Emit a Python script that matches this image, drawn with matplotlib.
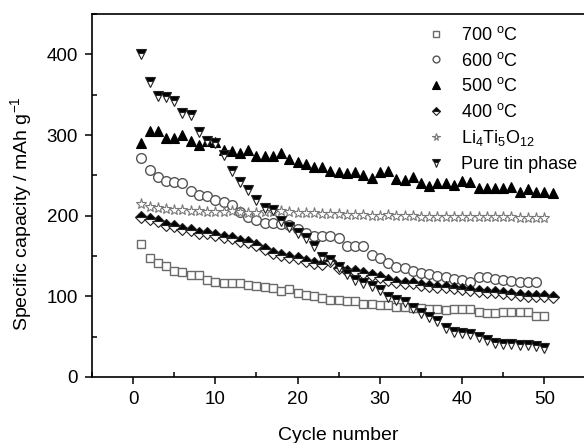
import numpy as np
import matplotlib.pyplot as plt
from matplotlib.ticker import MultipleLocator

plt.rcParams['font.family'] = ['Liberation Sans', 'DejaVu Sans']
plt.rcParams['mathtext.fontset'] = 'custom'
plt.rcParams['mathtext.rm'] = 'Liberation Sans'
plt.rcParams['mathtext.it'] = 'Liberation Sans'

# === data (capacity in mAh/g vs cycle number) ===
cap_700 = [165, 148, 142, 138, 132, 130, 127, 127, 120, 118,
           116, 116, 116, 114, 113, 111, 110, 107, 109, 104,
           102, 100, 98, 96, 95, 94, 94, 91, 91, 89,
           89, 87, 87, 85, 85, 84, 84, 83, 84, 84,
           84, 81, 79, 79, 80, 80, 80, 80, 76, 76]

cap_600 = [272, 257, 248, 243, 242, 240, 231, 226, 225, 220,
           217, 213, 205, 199, 195, 191, 191, 190, 189, 183,
           179, 175, 175, 175, 172, 163, 162, 162, 151, 147,
           141, 137, 135, 132, 129, 128, 125, 124, 121, 120,
           118, 124, 124, 121, 120, 119, 118, 118, 118]

cap_500 = [290, 305, 305, 297, 297, 300, 293, 288, 293, 291,
           282, 280, 278, 282, 274, 274, 274, 278, 270, 267,
           264, 261, 261, 256, 254, 253, 254, 251, 247, 254,
           255, 245, 244, 248, 241, 237, 241, 241, 238, 243,
           242, 235, 235, 235, 235, 236, 230, 233, 230, 229, 228]

cap_400 = [199, 196, 193, 189, 187, 183, 182, 179, 178, 176,
           174, 172, 169, 167, 164, 159, 154, 151, 149, 147,
           144, 142, 140, 144, 135, 132, 131, 129, 127, 124,
           120, 118, 117, 116, 114, 113, 112, 111, 110, 109,
           108, 107, 106, 105, 104, 103, 102, 101, 100, 100, 99]

cap_lto = [214, 211, 209, 208, 207, 207, 206, 206, 205, 205,
           205, 206, 205, 204, 204, 205, 205, 206, 205, 204,
           203, 203, 202, 202, 202, 201, 201, 201, 200, 200,
           201, 200, 200, 200, 199, 199, 199, 199, 199, 198,
           198, 198, 198, 198, 198, 198, 197, 197, 197, 197]

cap_tin = [401, 366, 349, 347, 342, 327, 325, 304, 293, 290,
           275, 256, 242, 232, 220, 209, 207, 193, 186, 179,
           173, 163, 149, 145, 137, 128, 120, 116, 113, 108,
           99, 95, 93, 85, 79, 75, 70, 61, 56, 55,
           53, 50, 46, 42, 41, 41, 40, 40, 38, 36]

labels = ['700 $^{\\mathrm{o}}$C', '600 $^{\\mathrm{o}}$C', '500 $^{\\mathrm{o}}$C',
          '400 $^{\\mathrm{o}}$C', 'Li$_4$Ti$_5$O$_{12}$', 'Pure tin phase']

fig = plt.figure(figsize=(5.84, 4.43), dpi=100)
ax = fig.add_axes([0.1575, 0.149, 0.845, 0.819])

def cyc(vals):
    return np.arange(1, len(vals) + 1)

ax.plot(cyc(cap_700), cap_700, ls='none', marker='s', ms=6.2, mfc='white',
        mec='#6a6a6a', mew=1.0, label=labels[0])
ax.plot(cyc(cap_600), cap_600, ls='none', marker='o', ms=7, mfc='white',
        mec='#555555', mew=1.0, label=labels[1])
ax.plot(cyc(cap_500), cap_500, ls='none', marker='^', ms=7.5, mfc='black',
        mec='black', mew=0.8, label=labels[2])
ax.plot(cyc(cap_400), cap_400, ls='none', marker='D', ms=6, mfc='black',
        mfcalt='white', fillstyle='top', mec='#222222', mew=0.8, label=labels[3])
ax.plot(cyc(cap_lto), cap_lto, ls='none', marker='*', ms=8, mfc='white',
        mec='#777777', mew=0.8, label=labels[4])
ax.plot(cyc(cap_tin), cap_tin, ls='none', marker='v', ms=7.5, mfc='black',
        mfcalt='white', fillstyle='top', mec='#222222', mew=0.8, label=labels[5])

ax.set_xlim(-5, 55)
ax.set_ylim(0, 450)
ax.xaxis.set_major_locator(MultipleLocator(10))
ax.xaxis.set_minor_locator(MultipleLocator(5))
ax.yaxis.set_major_locator(MultipleLocator(100))
ax.yaxis.set_minor_locator(MultipleLocator(50))
ax.tick_params(which='major', direction='out', length=5, width=1.1, pad=5, labelsize=13.5)
ax.tick_params(which='minor', direction='in', length=3.5, width=1.1)
ax.tick_params(top=False, right=False, which='both')
for s in ax.spines.values():
    s.set_linewidth(1.2)
ax.spines['right'].set_visible(False)

ax.set_xlabel('Cycle number', fontsize=14, va='top')
ax.xaxis.set_label_coords(0.5, -0.138)
ax.set_ylabel('Specific capacity / mAh g$^{-1}$', fontsize=14)
ax.yaxis.set_label_coords(-0.118, 0.45)

ax.legend(loc='upper left', bbox_to_anchor=(0.645, 1.012), frameon=False, fontsize=13,
          markerscale=0.7, handlelength=1.0, handletextpad=0.89, labelspacing=0.42)

fig.savefig('out.png', dpi=100)
